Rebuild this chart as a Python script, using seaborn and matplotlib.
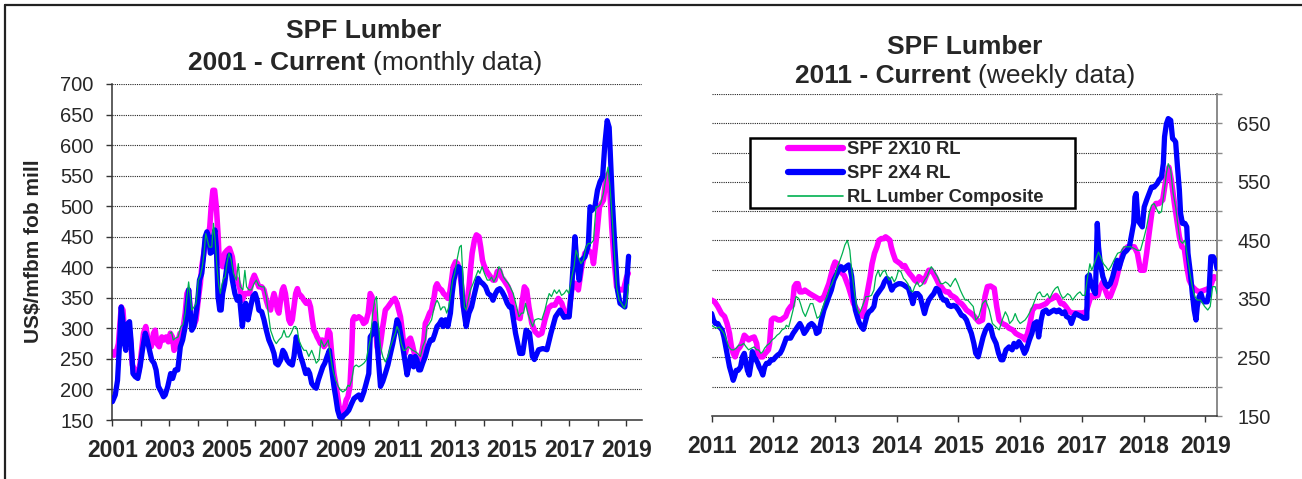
import numpy as np
import pandas as pd
import matplotlib
matplotlib.use("Agg")
import matplotlib.pyplot as plt
import seaborn as sns
from matplotlib.lines import Line2D
from matplotlib.patches import Rectangle

# ---- left chart: monthly data 2001 - current ----
mon_2x10_x = [2001.00, 2001.06, 2001.14, 2001.21, 2001.31, 2001.37, 2001.45, 2001.55, 2001.62, 2001.70,
              2001.80, 2001.90, 2001.97, 2002.09, 2002.17, 2002.27, 2002.36, 2002.44, 2002.50, 2002.56,
              2002.64, 2002.73, 2002.80, 2002.88, 2002.96, 2003.03, 2003.10, 2003.16, 2003.23, 2003.31,
              2003.37, 2003.45, 2003.55, 2003.61, 2003.67, 2003.76, 2003.84, 2003.93, 2004.02, 2004.08,
              2004.13, 2004.20, 2004.27, 2004.35, 2004.41, 2004.46, 2004.52, 2004.58, 2004.64, 2004.70,
              2004.74, 2004.81, 2004.86, 2004.93, 2005.02, 2005.10, 2005.20, 2005.29, 2005.37, 2005.45,
              2005.55, 2005.64, 2005.72, 2005.80, 2005.90, 2005.97, 2006.04, 2006.13, 2006.23, 2006.31,
              2006.39, 2006.46, 2006.54, 2006.60, 2006.66, 2006.72, 2006.78, 2006.83, 2006.89, 2006.95,
              2007.00, 2007.06, 2007.12, 2007.18, 2007.24, 2007.30, 2007.36, 2007.42, 2007.48, 2007.53,
              2007.63, 2007.71, 2007.79, 2007.88, 2007.94, 2008.00, 2008.06, 2008.12, 2008.17, 2008.23,
              2008.29, 2008.35, 2008.41, 2008.49, 2008.56, 2008.62, 2008.68, 2008.76, 2008.82, 2008.89,
              2008.96, 2009.03, 2009.11, 2009.19, 2009.25, 2009.32, 2009.38, 2009.42, 2009.47, 2009.54,
              2009.63, 2009.72, 2009.80, 2009.88, 2009.96, 2010.03, 2010.09, 2010.15, 2010.21, 2010.27,
              2010.33, 2010.39, 2010.47, 2010.56, 2010.65, 2010.74, 2010.82, 2010.89, 2010.97, 2011.03,
              2011.09, 2011.15, 2011.20, 2011.26, 2011.32, 2011.38, 2011.44, 2011.50, 2011.55, 2011.61,
              2011.67, 2011.73, 2011.79, 2011.85, 2011.91, 2011.96, 2012.02, 2012.11, 2012.18, 2012.27,
              2012.32, 2012.37, 2012.46, 2012.53, 2012.60, 2012.67, 2012.75, 2012.81, 2012.88, 2012.94,
              2013.02, 2013.09, 2013.16, 2013.23, 2013.29, 2013.35, 2013.40, 2013.49, 2013.54, 2013.60,
              2013.68, 2013.75, 2013.84, 2013.90, 2013.96, 2014.01, 2014.09, 2014.16, 2014.25, 2014.33,
              2014.40, 2014.48, 2014.56, 2014.63, 2014.71, 2014.79, 2014.86, 2014.95, 2015.04, 2015.16,
              2015.28, 2015.36, 2015.43, 2015.51, 2015.59, 2015.69, 2015.80, 2015.92, 2016.04, 2016.15,
              2016.27, 2016.39, 2016.50, 2016.62, 2016.74, 2016.85, 2016.97, 2017.09, 2017.20, 2017.32,
              2017.44, 2017.55, 2017.67, 2017.79, 2017.85, 2017.96, 2018.06, 2018.20, 2018.29, 2018.37,
              2018.43, 2018.49, 2018.57, 2018.66, 2018.78, 2018.90, 2019.01, 2019.07]
mon_2x10_y = [262, 256, 262, 275, 335, 330, 275, 295, 290, 240,
              230, 225, 243, 292, 303, 275, 270, 292, 297, 275,
              270, 286, 281, 286, 278, 292, 286, 264, 270, 281,
              292, 292, 325, 357, 363, 314, 303, 314, 352, 373,
              401, 423, 444, 450, 466, 499, 526, 526, 499, 455,
              412, 409, 401, 423, 428, 431, 417, 384, 379, 368,
              346, 357, 357, 357, 379, 387, 379, 368, 368, 363,
              346, 335, 330, 346, 357, 346, 330, 325, 346, 363,
              368, 357, 335, 314, 308, 314, 335, 357, 365, 357,
              352, 346, 341, 344, 335, 314, 297, 292, 286, 281,
              275, 281, 270, 275, 297, 292, 259, 226, 210, 188,
              166, 161, 166, 183, 188, 205, 259, 314, 319, 316,
              319, 316, 308, 311, 325, 357, 352, 335, 308, 270,
              259, 275, 303, 330, 335, 341, 346, 349, 341, 330,
              319, 297, 275, 259, 270, 281, 284, 275, 264, 254,
              248, 243, 251, 264, 281, 308, 314, 325, 330, 352,
              368, 373, 365, 363, 357, 354, 349, 357, 379, 401,
              409, 406, 395, 368, 335, 325, 335, 368, 395, 423,
              444, 453, 450, 433, 412, 404, 395, 390, 384, 379,
              379, 393, 395, 384, 379, 373, 368, 357, 335, 319,
              316, 346, 368, 363, 335, 308, 295, 289, 292, 314,
              333, 338, 338, 349, 341, 325, 319, 363, 374, 363,
              401, 423, 428, 423, 406, 450, 499, 510, 548, 553,
              521, 466, 412, 368, 363, 363, 384, 390]

mon_2x4_x = [2001.00, 2001.10, 2001.18, 2001.25, 2001.31, 2001.36, 2001.42, 2001.47, 2001.54, 2001.60,
             2001.66, 2001.72, 2001.80, 2001.89, 2001.97, 2002.05, 2002.15, 2002.22, 2002.30, 2002.38,
             2002.46, 2002.53, 2002.61, 2002.71, 2002.79, 2002.85, 2002.94, 2003.04, 2003.11, 2003.20,
             2003.29, 2003.38, 2003.46, 2003.55, 2003.61, 2003.67, 2003.73, 2003.78, 2003.85, 2003.93,
             2003.99, 2004.05, 2004.13, 2004.19, 2004.25, 2004.31, 2004.37, 2004.43, 2004.49, 2004.54,
             2004.59, 2004.64, 2004.70, 2004.76, 2004.81, 2004.86, 2004.93, 2005.01, 2005.10, 2005.20,
             2005.29, 2005.37, 2005.45, 2005.55, 2005.61, 2005.67, 2005.75, 2005.84, 2005.92, 2006.00,
             2006.07, 2006.13, 2006.23, 2006.31, 2006.39, 2006.48, 2006.58, 2006.66, 2006.72, 2006.80,
             2006.89, 2006.97, 2007.04, 2007.12, 2007.20, 2007.30, 2007.36, 2007.44, 2007.51, 2007.59,
             2007.67, 2007.77, 2007.85, 2007.91, 2007.98, 2008.06, 2008.14, 2008.21, 2008.29, 2008.37,
             2008.44, 2008.52, 2008.60, 2008.67, 2008.76, 2008.82, 2008.89, 2008.96, 2009.03, 2009.11,
             2009.19, 2009.28, 2009.38, 2009.46, 2009.54, 2009.63, 2009.71, 2009.81, 2009.89, 2009.98,
             2010.03, 2010.12, 2010.19, 2010.25, 2010.30, 2010.39, 2010.47, 2010.56, 2010.65, 2010.74,
             2010.82, 2010.89, 2010.97, 2011.03, 2011.09, 2011.17, 2011.26, 2011.32, 2011.38, 2011.44,
             2011.50, 2011.55, 2011.61, 2011.67, 2011.73, 2011.79, 2011.87, 2011.96, 2012.05, 2012.14,
             2012.22, 2012.30, 2012.37, 2012.46, 2012.53, 2012.58, 2012.67, 2012.75, 2012.84, 2012.90,
             2012.96, 2013.04, 2013.11, 2013.19, 2013.25, 2013.32, 2013.39, 2013.49, 2013.58, 2013.66,
             2013.74, 2013.81, 2013.90, 2013.98, 2014.07, 2014.16, 2014.25, 2014.33, 2014.42, 2014.49,
             2014.57, 2014.65, 2014.74, 2014.83, 2014.91, 2014.98, 2015.12, 2015.27, 2015.37, 2015.49,
             2015.61, 2015.71, 2015.78, 2015.93, 2016.08, 2016.22, 2016.36, 2016.52, 2016.68, 2016.82,
             2016.91, 2017.00, 2017.09, 2017.20, 2017.26, 2017.35, 2017.44, 2017.55, 2017.67, 2017.73,
             2017.79, 2017.90, 2017.99, 2018.08, 2018.17, 2018.25, 2018.33, 2018.40, 2018.45, 2018.51,
             2018.60, 2018.69, 2018.78, 2018.87, 2018.95, 2019.08]
mon_2x4_y = [180, 191, 215, 275, 335, 314, 275, 264, 308, 311,
             275, 226, 221, 218, 237, 264, 292, 281, 264, 248,
             243, 232, 205, 196, 188, 191, 205, 226, 218, 232,
             232, 270, 281, 303, 335, 363, 325, 297, 303, 325,
             346, 379, 390, 417, 450, 458, 450, 423, 425, 450,
             461, 433, 352, 330, 330, 357, 373, 401, 420, 379,
             357, 346, 352, 303, 325, 341, 314, 335, 352, 357,
             346, 330, 327, 314, 297, 281, 270, 259, 243, 240,
             248, 264, 259, 248, 243, 240, 254, 286, 270, 254,
             243, 226, 232, 226, 210, 205, 202, 215, 226, 237,
             243, 254, 264, 237, 205, 188, 166, 155, 153, 158,
             161, 166, 177, 185, 188, 191, 183, 196, 210, 226,
             286, 292, 308, 303, 259, 205, 213, 226, 240, 259,
             275, 292, 314, 308, 292, 270, 243, 224, 237, 254,
             243, 237, 254, 248, 232, 232, 243, 254, 270, 281,
             281, 292, 303, 308, 314, 303, 314, 303, 325, 357,
             379, 395, 401, 398, 357, 325, 303, 325, 335, 352,
             368, 382, 376, 373, 368, 357, 354, 346, 357, 363,
             365, 360, 352, 341, 335, 335, 292, 259, 259, 297,
             292, 254, 249, 265, 267, 265, 292, 319, 330, 318,
             319, 319, 368, 450, 412, 379, 412, 417, 436, 499,
             493, 499, 526, 540, 548, 602, 640, 629, 575, 510,
             433, 363, 341, 338, 335, 418]

mon_comp_x = [2003.02, 2003.07, 2003.13, 2003.21, 2003.30, 2003.40, 2003.47, 2003.55, 2003.61, 2003.67,
              2003.73, 2003.78, 2003.86, 2003.93, 2004.01, 2004.07, 2004.15, 2004.21, 2004.27, 2004.33,
              2004.39, 2004.48, 2004.54, 2004.60, 2004.66, 2004.72, 2004.78, 2004.84, 2004.90, 2004.95,
              2005.01, 2005.08, 2005.16, 2005.24, 2005.34, 2005.41, 2005.48, 2005.57, 2005.64, 2005.70,
              2005.78, 2005.87, 2005.96, 2006.04, 2006.13, 2006.23, 2006.31, 2006.39, 2006.46, 2006.54,
              2006.66, 2006.74, 2006.83, 2006.93, 2007.01, 2007.09, 2007.18, 2007.26, 2007.36, 2007.42,
              2007.48, 2007.53, 2007.63, 2007.71, 2007.79, 2007.88, 2007.98, 2008.06, 2008.14, 2008.23,
              2008.31, 2008.41, 2008.49, 2008.56, 2008.64, 2008.72, 2008.82, 2008.91, 2008.99, 2009.07,
              2009.17, 2009.25, 2009.31, 2009.38, 2009.46, 2009.54, 2009.63, 2009.73, 2009.81, 2009.89,
              2009.98, 2010.03, 2010.12, 2010.19, 2010.25, 2010.30, 2010.39, 2010.47, 2010.56, 2010.65,
              2010.74, 2010.82, 2010.91, 2010.97, 2011.03, 2011.12, 2011.20, 2011.26, 2011.36, 2011.44,
              2011.52, 2011.61, 2011.69, 2011.79, 2011.87, 2011.96, 2012.02, 2012.08, 2012.18, 2012.25,
              2012.32, 2012.37, 2012.43, 2012.50, 2012.57, 2012.64, 2012.71, 2012.78, 2012.85, 2012.92,
              2012.99, 2013.07, 2013.16, 2013.22, 2013.28, 2013.33, 2013.39, 2013.46, 2013.54, 2013.63,
              2013.72, 2013.81, 2013.87, 2013.95, 2014.03, 2014.13, 2014.21, 2014.28, 2014.36, 2014.45,
              2014.54, 2014.62, 2014.70, 2014.77, 2014.86, 2014.93, 2015.04, 2015.16, 2015.24, 2015.33,
              2015.40, 2015.47, 2015.55, 2015.63, 2015.72, 2015.80, 2015.92, 2016.04, 2016.15, 2016.23,
              2016.30, 2016.38, 2016.48, 2016.56, 2016.65, 2016.73, 2016.82, 2016.91, 2016.99, 2017.09,
              2017.17, 2017.24, 2017.32, 2017.41, 2017.50, 2017.59, 2017.67, 2017.76, 2017.85, 2017.94,
              2018.02, 2018.10, 2018.20, 2018.29, 2018.36, 2018.43, 2018.49, 2018.54, 2018.60, 2018.66,
              2018.75, 2018.83, 2018.93, 2018.99, 2019.03, 2019.08]
mon_comp_y = [292, 294, 281, 284, 286, 303, 306, 325, 352, 376,
              352, 330, 335, 341, 379, 384, 401, 423, 455, 444,
              433, 433, 472, 444, 401, 373, 357, 373, 382, 384,
              406, 423, 412, 390, 379, 406, 368, 363, 395, 368,
              363, 363, 373, 379, 370, 368, 368, 352, 325, 297,
              281, 275, 281, 286, 297, 286, 286, 292, 303, 303,
              297, 281, 270, 264, 264, 254, 264, 254, 243, 248,
              281, 270, 275, 281, 254, 232, 215, 205, 199, 196,
              199, 207, 205, 215, 237, 240, 237, 240, 243, 248,
              270, 281, 325, 346, 352, 314, 270, 254, 245, 254,
              270, 281, 292, 303, 297, 275, 264, 264, 270, 267,
              264, 262, 259, 254, 270, 281, 303, 306, 314, 330,
              341, 346, 341, 330, 335, 335, 325, 335, 357, 379,
              390, 412, 433, 436, 379, 335, 330, 346, 363, 373,
              384, 395, 390, 401, 390, 379, 379, 384, 376, 384,
              401, 395, 384, 379, 374, 368, 357, 335, 319, 325,
              325, 341, 325, 314, 303, 314, 316, 314, 330, 346,
              357, 352, 363, 357, 363, 354, 357, 363, 357, 384,
              401, 428, 417, 406, 412, 433, 439, 439, 444, 499,
              499, 504, 521, 548, 564, 531, 493, 455, 412, 368,
              346, 341, 333, 340, 350, 372]

# ---- right chart: weekly data 2011 - current ----
wk_2x10_x = [2011.00, 2011.05, 2011.10, 2011.16, 2011.21, 2011.25, 2011.29, 2011.32, 2011.35, 2011.38,
             2011.42, 2011.46, 2011.49, 2011.53, 2011.56, 2011.60, 2011.64, 2011.69, 2011.73, 2011.75,
             2011.79, 2011.83, 2011.87, 2011.92, 2011.94, 2011.97, 2012.00, 2012.03, 2012.08, 2012.12,
             2012.16, 2012.20, 2012.24, 2012.28, 2012.31, 2012.34, 2012.37, 2012.40, 2012.43, 2012.47,
             2012.51, 2012.55, 2012.59, 2012.64, 2012.67, 2012.72, 2012.76, 2012.79, 2012.82, 2012.86,
             2012.90, 2012.94, 2012.97, 2013.00, 2013.04, 2013.07, 2013.15, 2013.22, 2013.30, 2013.36,
             2013.41, 2013.45, 2013.49, 2013.53, 2013.57, 2013.60, 2013.64, 2013.68, 2013.71, 2013.75,
             2013.79, 2013.82, 2013.86, 2013.89, 2013.91, 2013.94, 2013.98, 2014.02, 2014.06, 2014.10,
             2014.13, 2014.17, 2014.21, 2014.25, 2014.29, 2014.33, 2014.36, 2014.40, 2014.44, 2014.48,
             2014.52, 2014.56, 2014.60, 2014.64, 2014.68, 2014.72, 2014.76, 2014.80, 2014.84, 2014.88,
             2014.92, 2014.96, 2015.00, 2015.05, 2015.09, 2015.13, 2015.17, 2015.21, 2015.25, 2015.28,
             2015.33, 2015.39, 2015.43, 2015.47, 2015.52, 2015.58, 2015.62, 2015.66, 2015.71, 2015.77,
             2015.82, 2015.88, 2015.93, 2015.98, 2016.04, 2016.08, 2016.12, 2016.16, 2016.20, 2016.25,
             2016.31, 2016.36, 2016.42, 2016.47, 2016.53, 2016.58, 2016.62, 2016.66, 2016.70, 2016.74,
             2016.80, 2016.85, 2016.90, 2016.96, 2017.01, 2017.07, 2017.11, 2017.15, 2017.20, 2017.26,
             2017.29, 2017.34, 2017.38, 2017.42, 2017.46, 2017.50, 2017.54, 2017.58, 2017.63, 2017.68,
             2017.74, 2017.79, 2017.85, 2017.90, 2017.95, 2018.01, 2018.05, 2018.09, 2018.14, 2018.20,
             2018.25, 2018.31, 2018.36, 2018.41, 2018.45, 2018.50, 2018.54, 2018.58, 2018.62, 2018.66,
             2018.70, 2018.74, 2018.79, 2018.85, 2018.90, 2018.96, 2019.01, 2019.06, 2019.10, 2019.14,
             2019.19]
wk_2x10_y = [348, 345, 337, 325, 320, 308, 291, 268, 257, 251,
             263, 268, 274, 288, 285, 280, 283, 285, 274, 257,
             251, 251, 257, 263, 274, 314, 317, 317, 314, 314,
             317, 320, 331, 337, 339, 371, 376, 376, 362, 362,
             365, 362, 359, 356, 354, 351, 348, 351, 354, 365,
             376, 393, 405, 413, 410, 399, 390, 370, 342, 331,
             325, 320, 342, 365, 388, 410, 428, 439, 450, 453,
             453, 456, 453, 450, 439, 428, 416, 413, 410, 405,
             407, 399, 393, 388, 382, 379, 388, 385, 379, 390,
             399, 399, 393, 385, 376, 371, 365, 362, 362, 356,
             354, 351, 345, 342, 337, 331, 328, 325, 321, 317,
             311, 314, 354, 371, 372, 368, 337, 314, 308, 305,
             300, 297, 291, 288, 285, 280, 291, 308, 331, 337,
             337, 339, 342, 348, 351, 356, 351, 342, 342, 337,
             328, 326, 326, 326, 326, 328, 342, 356, 354, 356,
             368, 379, 365, 354, 354, 365, 376, 393, 416, 433,
             439, 439, 439, 428, 399, 399, 428, 462, 502, 513,
             513, 519, 553, 575, 553, 513, 484, 456, 439, 436,
             405, 382, 371, 365, 362, 364, 366, 368, 376, 388,
             385]

wk_2x4_x = [2011.00, 2011.03, 2011.06, 2011.10, 2011.13, 2011.17, 2011.20, 2011.23, 2011.27, 2011.29,
            2011.32, 2011.35, 2011.37, 2011.40, 2011.43, 2011.47, 2011.50, 2011.53, 2011.55, 2011.58,
            2011.61, 2011.64, 2011.66, 2011.69, 2011.72, 2011.75, 2011.77, 2011.80, 2011.83, 2011.86,
            2011.89, 2011.93, 2011.96, 2012.00, 2012.04, 2012.07, 2012.11, 2012.14, 2012.18, 2012.21,
            2012.25, 2012.28, 2012.32, 2012.36, 2012.39, 2012.43, 2012.46, 2012.50, 2012.54, 2012.58,
            2012.62, 2012.65, 2012.68, 2012.70, 2012.74, 2012.78, 2012.82, 2012.86, 2012.90, 2012.94,
            2012.98, 2013.02, 2013.06, 2013.10, 2013.14, 2013.18, 2013.22, 2013.25, 2013.27, 2013.30,
            2013.33, 2013.36, 2013.39, 2013.43, 2013.46, 2013.49, 2013.52, 2013.55, 2013.59, 2013.63,
            2013.66, 2013.69, 2013.73, 2013.77, 2013.80, 2013.84, 2013.87, 2013.90, 2013.92, 2013.95,
            2013.99, 2014.03, 2014.07, 2014.11, 2014.15, 2014.19, 2014.23, 2014.26, 2014.30, 2014.34,
            2014.38, 2014.42, 2014.45, 2014.48, 2014.52, 2014.56, 2014.60, 2014.64, 2014.68, 2014.72,
            2014.76, 2014.80, 2014.84, 2014.88, 2014.92, 2014.96, 2015.00, 2015.05, 2015.09, 2015.13,
            2015.17, 2015.21, 2015.25, 2015.28, 2015.32, 2015.36, 2015.40, 2015.44, 2015.49, 2015.52,
            2015.56, 2015.61, 2015.65, 2015.69, 2015.72, 2015.77, 2015.82, 2015.87, 2015.90, 2015.94,
            2015.98, 2016.03, 2016.07, 2016.10, 2016.15, 2016.19, 2016.23, 2016.27, 2016.30, 2016.34,
            2016.37, 2016.42, 2016.46, 2016.50, 2016.55, 2016.59, 2016.63, 2016.68, 2016.72, 2016.75,
            2016.80, 2016.83, 2016.87, 2016.90, 2016.95, 2016.99, 2017.03, 2017.08, 2017.09, 2017.12,
            2017.15, 2017.19, 2017.22, 2017.25, 2017.27, 2017.30, 2017.34, 2017.38, 2017.42, 2017.46,
            2017.50, 2017.54, 2017.57, 2017.60, 2017.64, 2017.68, 2017.73, 2017.77, 2017.80, 2017.84,
            2017.86, 2017.88, 2017.91, 2017.94, 2017.98, 2018.01, 2018.05, 2018.09, 2018.13, 2018.17,
            2018.22, 2018.25, 2018.29, 2018.32, 2018.34, 2018.37, 2018.40, 2018.44, 2018.47, 2018.50,
            2018.52, 2018.55, 2018.58, 2018.60, 2018.63, 2018.67, 2018.70, 2018.72, 2018.76, 2018.79,
            2018.82, 2018.85, 2018.87, 2018.90, 2018.93, 2018.96, 2018.98, 2019.03, 2019.06, 2019.09,
            2019.13, 2019.17, 2019.19]
wk_2x4_y = [325, 314, 308, 308, 302, 297, 285, 268, 246, 234,
            223, 211, 217, 228, 228, 234, 251, 257, 246, 228,
            220, 240, 260, 251, 246, 240, 234, 228, 220, 234,
            240, 240, 246, 246, 251, 254, 257, 263, 274, 283,
            283, 283, 291, 297, 302, 308, 302, 291, 297, 305,
            308, 305, 300, 291, 294, 314, 331, 342, 354, 365,
            382, 391, 400, 405, 399, 405, 408, 399, 388, 354,
            331, 320, 310, 302, 298, 310, 322, 328, 331, 337,
            354, 359, 365, 371, 379, 385, 382, 371, 365, 371,
            374, 376, 376, 374, 371, 368, 354, 342, 359, 359,
            354, 337, 325, 337, 348, 354, 359, 368, 365, 354,
            348, 348, 339, 337, 339, 337, 331, 322, 320, 314,
            302, 291, 274, 257, 251, 268, 285, 297, 305, 302,
            285, 274, 257, 246, 246, 263, 268, 263, 274, 268,
            277, 268, 257, 263, 280, 291, 308, 311, 285, 314,
            328, 331, 325, 328, 331, 328, 331, 325, 328, 320,
            317, 308, 320, 325, 322, 320, 317, 317, 388, 391,
            376, 365, 359, 479, 439, 410, 388, 376, 371, 376,
            388, 405, 416, 402, 416, 428, 433, 439, 456, 479,
            524, 530, 484, 479, 473, 507, 519, 530, 541, 541,
            547, 553, 558, 581, 627, 649, 658, 655, 624, 621,
            618, 575, 536, 496, 479, 479, 473, 428, 393, 359,
            331, 314, 337, 354, 359, 348, 345, 345, 359, 422,
            422, 413, 402]

wk_comp_x = [2011.00, 2011.04, 2011.08, 2011.12, 2011.16, 2011.20, 2011.24, 2011.28, 2011.32, 2011.36,
             2011.40, 2011.44, 2011.48, 2011.52, 2011.56, 2011.60, 2011.65, 2011.69, 2011.73, 2011.76,
             2011.80, 2011.83, 2011.86, 2011.90, 2011.94, 2011.98, 2012.02, 2012.06, 2012.10, 2012.14,
             2012.19, 2012.21, 2012.25, 2012.28, 2012.32, 2012.34, 2012.37, 2012.41, 2012.44, 2012.48,
             2012.52, 2012.56, 2012.60, 2012.64, 2012.67, 2012.71, 2012.75, 2012.79, 2012.83, 2012.87,
             2012.91, 2012.95, 2013.00, 2013.04, 2013.08, 2013.12, 2013.16, 2013.20, 2013.24, 2013.27,
             2013.31, 2013.35, 2013.39, 2013.42, 2013.46, 2013.50, 2013.54, 2013.59, 2013.63, 2013.66,
             2013.70, 2013.73, 2013.77, 2013.81, 2013.85, 2013.88, 2013.92, 2013.96, 2013.99, 2014.03,
             2014.07, 2014.11, 2014.14, 2014.18, 2014.22, 2014.26, 2014.29, 2014.33, 2014.37, 2014.41,
             2014.45, 2014.49, 2014.52, 2014.56, 2014.60, 2014.63, 2014.66, 2014.71, 2014.75, 2014.79,
             2014.83, 2014.87, 2014.91, 2014.95, 2014.99, 2015.03, 2015.07, 2015.11, 2015.15, 2015.20,
             2015.24, 2015.28, 2015.33, 2015.39, 2015.44, 2015.50, 2015.55, 2015.61, 2015.66, 2015.71,
             2015.76, 2015.80, 2015.83, 2015.88, 2015.92, 2015.96, 2016.00, 2016.04, 2016.08, 2016.12,
             2016.16, 2016.20, 2016.24, 2016.28, 2016.32, 2016.36, 2016.40, 2016.44, 2016.48, 2016.53,
             2016.57, 2016.61, 2016.65, 2016.69, 2016.73, 2016.77, 2016.81, 2016.85, 2016.89, 2016.93,
             2016.97, 2017.01, 2017.05, 2017.09, 2017.13, 2017.16, 2017.20, 2017.24, 2017.27, 2017.31,
             2017.35, 2017.39, 2017.43, 2017.47, 2017.52, 2017.58, 2017.63, 2017.68, 2017.74, 2017.79,
             2017.85, 2017.90, 2017.95, 2018.01, 2018.05, 2018.09, 2018.13, 2018.17, 2018.22, 2018.25,
             2018.29, 2018.33, 2018.37, 2018.40, 2018.44, 2018.48, 2018.52, 2018.56, 2018.59, 2018.63,
             2018.67, 2018.71, 2018.76, 2018.79, 2018.83, 2018.87, 2018.92, 2018.96, 2018.99, 2019.04,
             2019.08, 2019.12, 2019.16, 2019.19]
wk_comp_y = [305, 302, 300, 302, 297, 291, 280, 268, 263, 263,
             266, 271, 271, 274, 268, 263, 266, 268, 263, 263,
             257, 260, 266, 271, 274, 280, 283, 288, 291, 297,
             300, 305, 302, 314, 331, 342, 354, 351, 342, 328,
             320, 331, 342, 342, 331, 317, 320, 331, 345, 354,
             368, 376, 390, 405, 416, 428, 442, 450, 433, 399,
             365, 337, 325, 331, 342, 354, 354, 356, 365, 388,
             399, 388, 396, 399, 388, 382, 388, 379, 385, 399,
             396, 385, 382, 376, 365, 362, 371, 379, 371, 374,
             382, 388, 396, 405, 399, 393, 388, 376, 376, 379,
             376, 371, 379, 385, 376, 365, 356, 348, 348, 342,
             337, 314, 320, 342, 348, 331, 308, 302, 297, 314,
             328, 320, 308, 314, 325, 314, 308, 311, 314, 320,
             328, 337, 348, 359, 362, 354, 354, 359, 351, 362,
             368, 371, 359, 351, 354, 359, 356, 348, 354, 359,
             362, 356, 356, 385, 410, 399, 410, 422, 430, 420,
             410, 405, 399, 405, 416, 428, 430, 439, 439, 439,
             436, 433, 433, 456, 473, 496, 510, 513, 502, 496,
             499, 530, 564, 581, 570, 530, 507, 473, 450, 445,
             450, 422, 388, 371, 354, 348, 348, 342, 337, 331,
             337, 371, 371, 359]

# ---- styling ----
sns.set_style("white")
plt.rcParams["font.family"] = ["Liberation Sans", "DejaVu Sans"]

W, H = 1302, 479
PINK, BLUE, GREEN = "#FF00FF", "#0000FF", "#00B050"
DARK = "#333333"

fig = plt.figure(figsize=(W / 100, H / 100), dpi=100)
fig.patch.set_facecolor("white")


def px_rect(x0, y0, x1, y1):
    return [x0 / W, 1 - y1 / H, (x1 - x0) / W, (y1 - y0) / H]


ax1 = fig.add_axes(px_rect(112.4, 84, 642, 420))
ax2 = fig.add_axes(px_rect(711.6, 94, 1217, 416))


def draw(ax, xs, ys, color, lw, z):
    sns.lineplot(x=xs, y=ys, color=color, lw=lw, ax=ax, legend=False, sort=False,
                 estimator=None, zorder=z, solid_joinstyle="round", solid_capstyle="round")


for ax, series in ((ax1, [(mon_2x10_x, mon_2x10_y), (mon_2x4_x, mon_2x4_y), (mon_comp_x, mon_comp_y)]),
                   (ax2, [(wk_2x10_x, wk_2x10_y), (wk_2x4_x, wk_2x4_y), (wk_comp_x, wk_comp_y)])):
    draw(ax, *series[0], PINK, 4.0, 2)
    draw(ax, *series[1], BLUE, 3.8, 3)
    draw(ax, *series[2], GREEN, 0.9, 4)

for ax in (ax1, ax2):
    ax.set_ylim(150, 700)
    ax.set_facecolor("white")
    ax.grid(False)
    for y in range(200, 701, 50):
        ax.axhline(y, color="#222222", lw=0.8, ls=(0, (1, 1)), zorder=1)
    for s in ax.spines.values():
        s.set_visible(False)
    ax.spines["bottom"].set_visible(True)
    ax.spines["bottom"].set_color(DARK)
    ax.spines["bottom"].set_linewidth(1.1)
    ax.set_xlabel("")
    ax.set_ylabel("")

# left chart axes
ax1.set_xlim(2001, 2019.55)
years1 = list(range(2001, 2020))
ax1.set_xticks(years1, [str(y) if (y - 2001) % 2 == 0 else "" for y in years1],
               fontsize=16.5, fontweight="bold")
ax1.set_yticks(range(150, 701, 50), [str(v) for v in range(150, 701, 50)], fontsize=14.5)
ax1.spines["left"].set_visible(True)
ax1.spines["left"].set_color(DARK)
ax1.spines["left"].set_linewidth(1.1)
ax1.tick_params(axis="x", direction="out", length=4.5, width=1, color=DARK, pad=9.5, bottom=True)
ax1.tick_params(axis="y", direction="out", length=4, width=1, color=DARK, pad=9.5, left=True)

# right chart axes
ax2.set_xlim(2011, 2019.19)
years2 = list(range(2011, 2020))
ax2.set_xticks(years2, [str(y) for y in years2], fontsize=16.5, fontweight="bold")
ax2.yaxis.tick_right()
ax2.set_yticks(range(150, 701, 50),
               [str(v) if (v - 150) % 100 == 0 and v < 700 else "" for v in range(150, 701, 50)],
               fontsize=14.5)
ax2.spines["right"].set_visible(True)
ax2.spines["right"].set_color("#8a8a8a")
ax2.spines["right"].set_linewidth(1.4)
ax2.tick_params(axis="x", direction="out", length=4.5, width=1, color=DARK, pad=9, bottom=True)
ax2.tick_params(axis="y", direction="out", length=3.5, width=1, color="#8a8a8a", pad=11,
                right=True, left=False)

# legend box on the weekly chart
aw, ah = 1217 - 711.6, 416 - 94
ax2.add_patch(Rectangle(((750 - 711.6) / aw, (416 - 208) / ah), 325 / aw, 70 / ah,
                        transform=ax2.transAxes, facecolor="white", edgecolor="black",
                        lw=1.8, zorder=5, clip_on=False))
handles = [Line2D([], [], color=PINK, lw=4.5, solid_capstyle="round"),
           Line2D([], [], color=BLUE, lw=4.5, solid_capstyle="round"),
           Line2D([], [], color=GREEN, lw=1.2)]
leg = ax2.legend(handles, ["SPF 2X10 RL", "SPF 2X4 RL", "RL Lumber Composite"],
                 loc="upper left", bbox_to_anchor=((788 - 711.6) / aw, (416 - 141) / ah),
                 borderaxespad=0, borderpad=0, frameon=False, handlelength=3.0,
                 handletextpad=0.22, labelspacing=0.39, prop={"weight": "bold", "size": 13.2})
leg.set_zorder(6)

# titles with a bold and a regular part
fig.canvas.draw()
renderer = fig.canvas.get_renderer()


def title_line(xc, base_y, bold, regular, size):
    t1 = fig.text(0, 1 - base_y / H, bold, fontsize=size, fontweight="bold", ha="left", va="baseline")
    if regular:
        t2 = fig.text(0, 1 - base_y / H, regular, fontsize=size, ha="left", va="baseline")
    w1 = t1.get_window_extent(renderer).width
    gap = 0.28 * size * 100 / 72 if regular else 0
    w2 = t2.get_window_extent(renderer).width if regular else 0
    x0 = xc - (w1 + gap + w2) / 2
    t1.set_x(x0 / W)
    if regular:
        t2.set_x((x0 + w1 + gap) / W)


title_line(364, 38.5, "SPF Lumber", "", 19)
title_line(365, 70, "2001 - Current", "(monthly data)", 19)
title_line(965, 53.5, "SPF Lumber", "", 19)
title_line(965, 83.5, "2011 - Current", "(weekly data)", 19)

fig.text(34 / W, 1 - 251 / H, "US$/mfbm fob mill", rotation=90, fontsize=15,
         fontweight="bold", ha="center", va="center")

# outer frame (top and left edges visible)
fig.add_artist(Line2D([5 / W, 1], [1 - 5 / H, 1 - 5 / H], transform=fig.transFigure,
                      color="#222222", lw=1.6))
fig.add_artist(Line2D([5 / W, 5 / W], [0, 1 - 5 / H], transform=fig.transFigure,
                      color="#222222", lw=1.6))

fig.savefig("out.png", dpi=100, facecolor="white")
